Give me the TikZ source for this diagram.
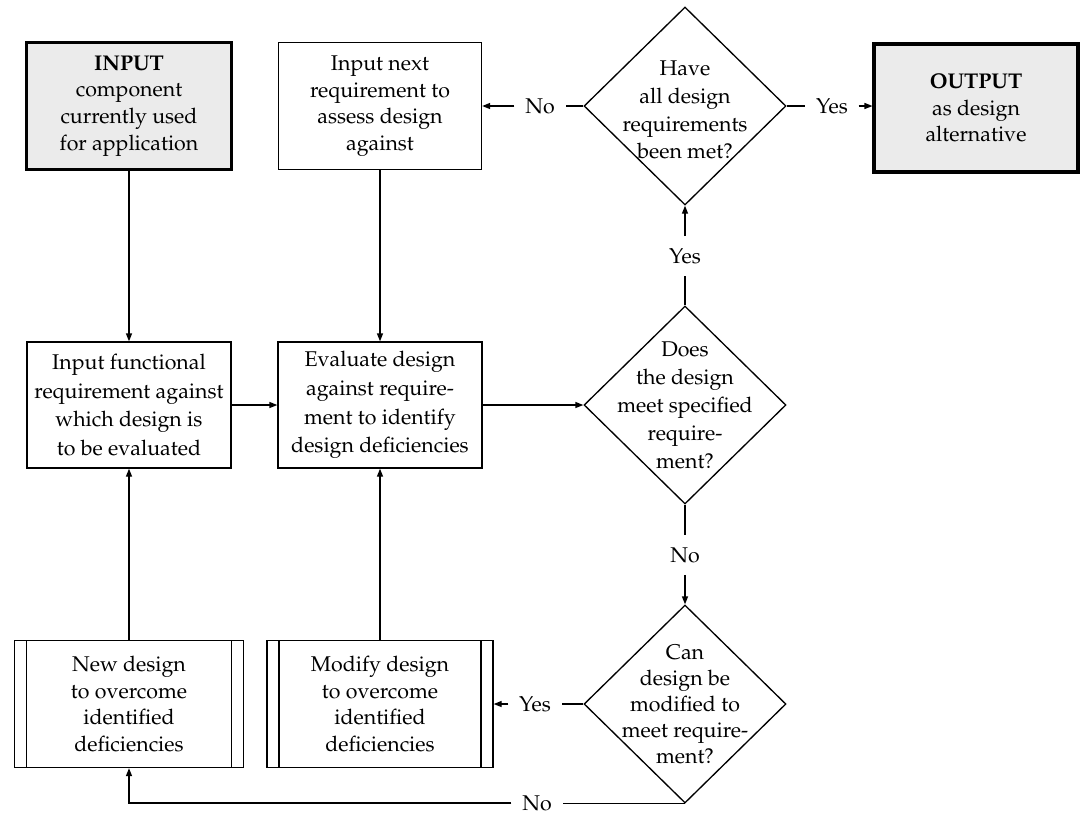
\documentclass[tikz,border=0pt]{standalone}
\usepackage[T1]{fontenc}
\usepackage{mathpazo}
\usetikzlibrary{shapes.geometric,arrows.meta}
\begin{document}
\begin{tikzpicture}[x=0.75pt,y=-0.75pt,
  every node/.style={font=\fontsize{16}{20}\selectfont},
  mid/.style={font=\fontsize{16}{21.5}\selectfont},
  flow/.style={draw,line width=1pt,align=center,inner sep=0pt},
  terminal/.style={flow,line width=2.3pt,fill=black!8},
  process/.style={flow,
    path picture={\draw[line width=1pt]
      ([xshift=9pt]path picture bounding box.north west) -- ([xshift=9pt]path picture bounding box.south west)
      ([xshift=-9pt]path picture bounding box.north east) -- ([xshift=-9pt]path picture bounding box.south east);}},
  decision/.style={draw,line width=1pt,shape=diamond,inner sep=0pt,
    minimum width=151.5pt,minimum height=148.5pt},
  qtext/.style={align=center,inner sep=0pt},
  lbl/.style={inner sep=0pt,inner xsep=8pt,inner ysep=9pt},
  link/.style={line width=1pt},
  arrow/.style={link,-{Triangle[length=6pt,width=4.5pt]}}
]
\useasboundingbox (0,0) rectangle (1080,815);

% top row
\node[terminal,minimum width=153.75pt,minimum height=95.25pt] (inp) at (129,106)
  {\textbf{INPUT}\\component\\currently used\\for application};
\node[flow,minimum width=152.25pt,minimum height=95.25pt] (nxt) at (380,106)
  {Input next\\requirement to\\assess design\\against};
\node[decision] (d1) at (685,106) {};
\node[qtext,font=\fontsize{16}{20.8}\selectfont] at ([yshift=-3pt]d1.center)
  {Have\\all design\\requirements\\been met?};
\node[terminal,minimum width=153pt,minimum height=96pt] (out) at (976,108)
  {\textbf{OUTPUT}\\as design\\alternative};

% middle row
\node[flow,mid,minimum width=153pt,minimum height=94.5pt] (fn) at (129,405)
  {Input functional\\requirement against\\which design is\\to be evaluated};
\node[flow,mid,minimum width=153pt,minimum height=94.5pt] (ev) at (380,405)
  {Evaluate design\\against require-\\ment to identify\\design deficiencies};
\node[decision] (d2) at (685,405) {};
\node[qtext,font=\fontsize{16}{21}\selectfont] at (d2.center)
  {Does\\the design\\meet specified\\require-\\ment?};

% bottom row
\node[process,minimum width=171.75pt,minimum height=95.25pt] (new) at (129,704)
  {New design\\to overcome\\identified\\deficiencies};
\node[process,minimum width=169.5pt,minimum height=95.25pt] (mod) at (380,704)
  {Modify design\\to overcome\\identified\\deficiencies};
\node[decision] (d3) at (685,704) {};
\node[qtext,font=\fontsize{16}{19.5}\selectfont] at (d3.center)
  {Can\\design be\\modified to\\meet require-\\ment?};

% branch labels
\node[lbl] (no1) at (540,106) {No};
\node[lbl] (yes1) at (832,106) {Yes};
\node[lbl] (yes2) at (685,256) {Yes};
\node[lbl] (no2) at (685,555) {No};
\node[lbl] (yes3) at (535,704) {Yes};
\node[lbl] (no3) at (537,803) {No};

% connectors
\draw[arrow] (inp.south) -- (fn.north);
\draw[arrow] (nxt.south) -- (ev.north);
\draw[arrow] (fn.east) -- (ev.west);
\draw[arrow] (ev.east) -- (d2.west);
\draw[arrow] (new.north) -- (fn.south);
\draw[arrow] (mod.north) -- (ev.south);

\draw[link] (d1.west) -- (no1.east);
\draw[arrow] (no1.west) -- (no1.west -| nxt.east);
\draw[link] (d1.east) -- (yes1.west);
\draw[arrow] (yes1.east) -- (yes1.east -| out.west);

\draw[link] (d2.north) -- (yes2.south);
\draw[arrow] (yes2.north) -- (d1.south);
\draw[link] (d2.south) -- (no2.north);
\draw[arrow] (no2.south) -- (d3.north);

\draw[link] (d3.west) -- (yes3.east);
\draw[arrow] (yes3.west) -- (yes3.west -| mod.east);
\draw[link] (d3.south) -- (d3.south -| no3.east);
\draw[arrow] (no3.west) -| (new.south);
\end{tikzpicture}
\end{document}
